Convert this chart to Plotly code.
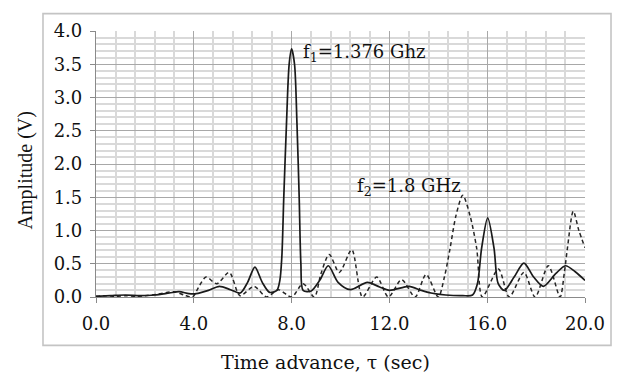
import plotly.graph_objects as go

# Solid trace: f1 = 1.376 GHz
tau_f1 = [0.0, 0.6, 1.2, 1.8, 2.4, 3.0, 3.4, 3.8, 4.1, 4.6, 5.05, 5.5, 5.9, 6.2, 6.5, 6.8,
          7.1, 7.4, 7.52, 7.6, 7.68, 7.79, 7.9, 8.0, 8.12, 8.22, 8.31, 8.38, 8.47, 8.8,
          9.15, 9.5, 9.9, 10.4, 11.1, 11.6, 12.0, 12.8, 13.3, 13.7, 14.3, 15.0, 15.4,
          15.6, 15.77, 16.02, 16.28, 16.45, 16.7, 17.1, 17.5, 17.9, 18.3, 18.8, 19.2,
          19.6, 20.0]
amp_f1 = [0.01, 0.02, 0.03, 0.02, 0.03, 0.06, 0.08, 0.05, 0.05, 0.1, 0.16, 0.11, 0.06, 0.22,
          0.45, 0.22, 0.07, 0.1, 0.25, 0.6, 1.5, 2.6, 3.5, 3.73, 3.5, 2.6, 1.5, 0.5, 0.1,
          0.09, 0.25, 0.47, 0.22, 0.11, 0.22, 0.15, 0.1, 0.16, 0.1, 0.06, 0.03, 0.02, 0.03,
          0.2, 0.73, 1.19, 0.73, 0.2, 0.1, 0.3, 0.51, 0.3, 0.16, 0.35, 0.47, 0.38, 0.25]

# Dashed trace: f2 = 1.8 GHz
tau_f2 = [0.0, 0.4, 0.8, 1.2, 1.6, 2.0, 2.5, 3.2, 3.6, 3.95, 4.2, 4.5, 4.94, 5.45, 5.89,
          6.46, 6.98, 7.46, 8.0, 8.47, 8.93, 9.2, 9.54, 9.95, 10.46, 10.9, 11.48, 11.96,
          12.5, 13.05, 13.5, 14.0, 14.25, 14.48, 14.72, 15.0, 15.3, 15.57, 15.8, 16.46,
          16.9, 17.5, 17.96, 18.5, 18.98, 19.15, 19.28, 19.52, 19.75, 20.0]
amp_f2 = [0.01, 0.02, 0.01, 0.02, 0.01, 0.02, 0.04, 0.08, 0.03, 0.0, 0.15, 0.3, 0.2, 0.37,
          0.02, 0.16, 0.0, 0.11, 0.0, 0.2, 0.0, 0.35, 0.64, 0.37, 0.71, 0.0, 0.3, 0.0, 0.26,
          0.0, 0.34, 0.0, 0.3, 0.73, 1.22, 1.53, 1.22, 0.73, 0.0, 0.42, 0.0, 0.37, 0.0,
          0.47, 0.0, 0.35, 0.73, 1.29, 1.0, 0.74]

label_f1 = "f<sub>1</sub>=1.376 Ghz"
label_f2 = "f<sub>2</sub>=1.8 GHz"
x_title = "Time advance, \u03c4 (sec)"
y_title = "Amplitude (V)"

WIDE = "DejaVu Serif, serif"
NARROW = "Liberation Serif, Times New Roman, serif"
INK = "#111111"

fig = go.Figure()
fig.add_trace(go.Scatter(x=tau_f2, y=amp_f2, mode="lines",
                         line=dict(color="#262626", width=1.5, dash="4px,3px", shape="spline",
                                   smoothing=0.8)))
fig.add_trace(go.Scatter(x=tau_f1, y=amp_f1, mode="lines",
                         line=dict(color="#1a1a1a", width=1.7, shape="spline", smoothing=0.8)))

axis_common = dict(
    showgrid=True, gridcolor="#a8a8a8", gridwidth=1.2,
    ticks="outside", ticklen=5, tickcolor="#8a8a8a", tickwidth=1.2,
    showline=True, linecolor="#8a8a8a", linewidth=1.2,
    zeroline=False, tickformat=".1f",
    tickfont=dict(family=WIDE, size=18, color=INK),
)

fig.update_xaxes(range=[0, 20], tick0=0, dtick=4,
                 minor=dict(dtick=0.8, showgrid=True, gridcolor="#d9d9d9", gridwidth=1.6),
                 ticklabelstandoff=5, **axis_common)
fig.update_yaxes(range=[0, 4], tick0=0, dtick=0.5,
                 minor=dict(dtick=0.1, showgrid=True, gridcolor="#d9d9d9", gridwidth=1.6),
                 ticklabelstandoff=4, **axis_common)

fig.add_annotation(x=8.38, y=3.67, xref="x", yref="y", text=label_f1, showarrow=False,
                   xanchor="left", yanchor="middle",
                   font=dict(family=WIDE, size=18, color=INK))
fig.add_annotation(x=10.6, y=1.66, xref="x", yref="y", text=label_f2, showarrow=False,
                   xanchor="left", yanchor="middle",
                   font=dict(family=WIDE, size=18, color=INK))
fig.add_annotation(x=0.4703, y=-0.2436, xref="paper", yref="paper", text=x_title,
                   showarrow=False, xanchor="center", yanchor="middle",
                   font=dict(family=WIDE, size=19, color=INK))
fig.add_annotation(x=-0.1452, y=0.476, xref="paper", yref="paper", text=y_title,
                   showarrow=False, xanchor="center", yanchor="middle", textangle=-90,
                   font=dict(family=NARROW, size=20, color=INK))

fig.add_shape(type="rect", xref="paper", yref="paper",
              x0=-0.1084, x1=1.0532, y0=-0.1818, y1=1.0655,
              line=dict(color="#c4c4c4", width=1.6), layer="below")

# the page places the figure 8 px in from the top-left corner
fig.update_layout(
    width=613, height=372,
    margin=dict(l=88, r=36, t=14, b=83),
    paper_bgcolor="white", plot_bgcolor="white",
    showlegend=False,
    font=dict(family=NARROW, size=17, color=INK),
)

fig.write_html("out.html")
